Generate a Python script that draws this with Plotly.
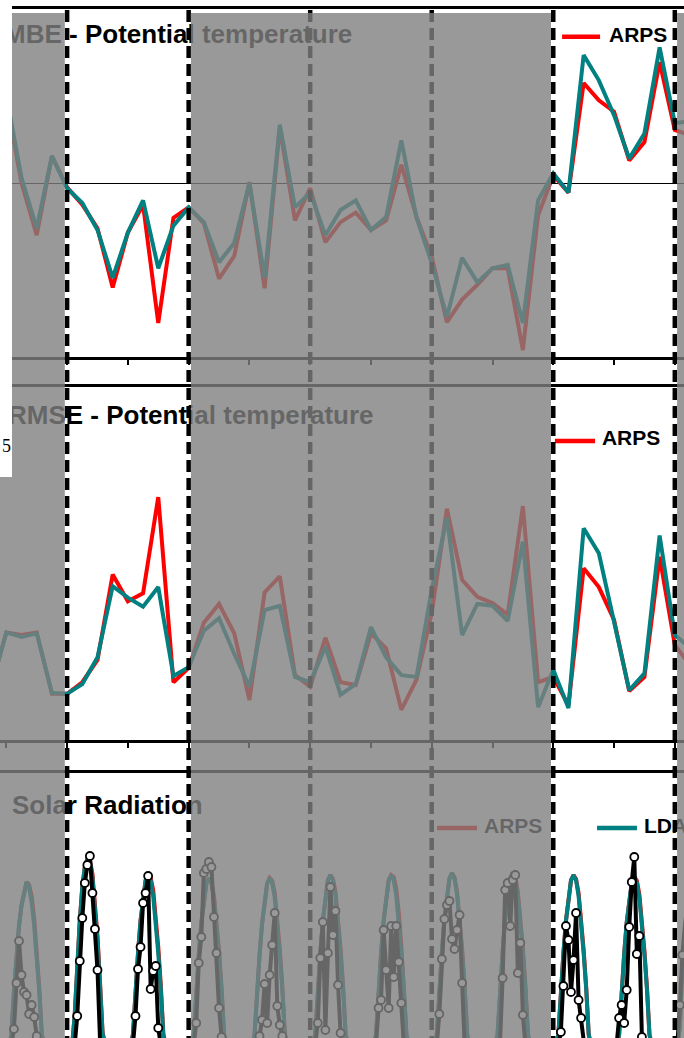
import plotly.graph_objects as go

# ---------------- DATA ----------------
# 6-hourly step index (panels 1 and 2)
step_idx = list(range(-5, 42))

mbe_ld = [None, 1.01, 0.06, -0.52, 0.31, -0.06, -0.23, -0.54, -1.09, -0.57, -0.20, -0.98, -0.49, -0.28,
          -0.45, -0.91, -0.69, 0.00, -1.09, 0.67, -0.28, -0.11, -0.60, -0.31, -0.20, -0.54, -0.39, 0.49,
          -0.40, -0.92, -1.54, -0.86, -1.14, -0.98, -0.94, -1.61, -0.20, 0.11, -0.11, 1.47, 1.18, 0.78,
          0.28, 0.57, 1.56, 0.69, 0.71]
mbe_arps = [None, 0.95, 0.00, -0.60, 0.31, -0.05, -0.25, -0.52, -1.20, -0.57, -0.25, -1.61, -0.40, -0.28,
            -0.46, -1.10, -0.84, 0.01, -1.21, 0.64, -0.43, -0.06, -0.68, -0.45, -0.34, -0.54, -0.43, 0.21,
            -0.39, -0.85, -1.60, -1.34, -1.17, -0.98, -0.98, -1.92, -0.37, 0.09, -0.11, 1.15, 0.95, 0.82,
            0.26, 0.47, 1.39, 0.61, 0.55]

rmse_ld = [0.61, 1.22, 1.17, 1.21, 0.54, 0.53, 0.64, 0.94, 1.74, 1.61, 1.51, 1.73, 0.73, 0.83, 1.24, 1.38,
           0.98, 0.61, 1.47, 1.52, 0.72, 0.66, 1.06, 0.52, 0.64, 1.28, 0.94, 0.74, 0.72, 1.70, 2.51, 1.19,
           1.54, 1.52, 1.35, 2.24, 0.38, 0.80, 0.37, 2.39, 2.11, 1.36, 0.57, 0.76, 2.31, 1.19, 1.05]
rmse_arps = [0.61, 1.22, 1.19, 1.22, 0.53, 0.53, 0.66, 0.91, 1.87, 1.57, 1.66, 2.74, 0.66, 0.82, 1.33, 1.54,
             1.21, 0.46, 1.67, 1.85, 0.74, 0.61, 1.16, 0.66, 0.63, 1.21, 1.04, 0.35, 0.69, 1.44, 2.61, 1.81,
             1.62, 1.55, 1.42, 2.64, 0.66, 0.72, 0.40, 1.94, 1.73, 1.36, 0.56, 0.72, 2.07, 1.08, 0.85]

# Solar radiation: hourly values (hours 5..19) for each day
solar_hours = list(range(5, 20))
ld_solar = [
    [0, 49, 269, 440, 595, 700, 765, 815, 789, 714, 595, 440, 269, 49, 0],
    [0, 0, 150, 400, 620, 790, 890, 930, 920, 840, 700, 520, 300, 60, 0],
    [0, 51, 281, 459, 621, 745, 823, 850, 823, 745, 621, 459, 281, 51, 0],
    [0, 50, 276, 451, 610, 731, 808, 835, 808, 731, 610, 451, 276, 50, 0],
    [0, 48, 272, 448, 608, 730, 806, 835, 810, 735, 612, 452, 276, 50, 0],
    [0, 52, 282, 460, 622, 746, 824, 850, 822, 744, 620, 458, 280, 50, 0],
    [0, 51, 280, 458, 620, 744, 822, 850, 824, 746, 622, 460, 282, 51, 0],
    [0, 52, 284, 464, 628, 753, 832, 860, 832, 753, 628, 464, 284, 52, 0],
    [0, 53, 286, 466, 630, 755, 834, 862, 830, 750, 625, 462, 282, 51, 0],
    [0, 50, 280, 458, 620, 745, 823, 850, 823, 745, 621, 459, 281, 51, 0],
    [0, 50, 277, 454, 613, 736, 813, 840, 813, 736, 613, 454, 277, 50, 0],
    [0, 90, 400, 560, 700, 800, 860, 875, 850, 770, 640, 470, 290, 50, 0],
]
arps_solar = [
    [0, 49, 269, 440, 595, 700, 765, 815, 800, 745, 630, 470, 285, 55, 0],
    [0, 0, 150, 400, 620, 790, 890, 930, 925, 855, 720, 545, 315, 65, 0],
    [0, 51, 281, 459, 621, 745, 823, 850, 835, 775, 655, 490, 300, 55, 0],
    [0, 50, 276, 451, 610, 731, 808, 835, 815, 745, 630, 470, 285, 50, 0],
    [0, 48, 272, 448, 608, 730, 806, 835, 820, 760, 640, 480, 290, 52, 0],
    [0, 52, 282, 460, 622, 746, 824, 850, 830, 765, 645, 480, 292, 52, 0],
    [0, 51, 280, 458, 620, 744, 825, 850, 840, 780, 660, 490, 300, 55, 0],
    [0, 52, 284, 464, 628, 753, 832, 860, 838, 765, 645, 480, 292, 54, 0],
    [0, 53, 286, 466, 630, 755, 834, 862, 840, 768, 648, 482, 294, 53, 0],
    [0, 50, 280, 458, 620, 745, 823, 850, 830, 760, 640, 475, 290, 52, 0],
    [0, 50, 277, 454, 613, 736, 813, 840, 822, 752, 635, 472, 288, 52, 0],
    [0, 90, 400, 560, 700, 800, 860, 875, 858, 785, 660, 490, 300, 52, 0],
]
obs_solar = [
    [0, 0, 80, 310, 520, 350, 265, 250, 155, 200, 140, 45, 0, 0, 0],
    [0, 0, 0, 145, 420, 635, 810, 900, 945, 760, 580, 375, 25, 0, 0],
    [0, 0, 145, 380, 490, 710, 760, 845, 280, 370, 395, 85, 0, 0, 0],
    [0, 0, 110, 410, 540, 860, 880, 915, 890, 640, 460, 185, 40, 0, 0],
    [0, 0, 0, 45, 125, 305, 110, 350, 500, 660, 195, 100, 45, 0, 0],
    [0, 0, 110, 435, 615, 75, 460, 790, 550, 670, 300, 60, 0, 0, 0],
    [0, 0, 185, 225, 575, 375, 185, 595, 340, 595, 415, 210, 0, 0, 0],
    [0, 0, 155, 430, 630, 700, 720, 530, 480, 575, 650, 310, 0, 0, 0],
    [0, 0, 20, 335, 775, 810, 595, 825, 850, 360, 510, 150, 0, 0, 0],
    [0, 0, 65, 295, 595, 525, 265, 425, 660, 225, 135, 25, 0, 0, 0],
    [0, 135, 200, 110, 275, 590, 815, 940, 455, 545, 40, 0, 0, 0, 0],
    [0, 200, 450, 600, 700, 750, 800, 820, 780, 700, 550, 350, 150, 0, 0],
]
day_boundaries = [0, 8, 16, 24, 32, 40]
highlight_windows = [(0, 8), (32, 40)]

# ---------------- STYLE / LAYOUT HELPERS ----------------
W, H = 684, 1038
X_RANGE = [-4.417, 40.605]
TEAL = "#008080"
RED = "#FF0000"
FONT = "Liberation Sans"


def py(px):
    return (H - px) / H


fig = go.Figure()


def hour_to_step(t):
    return (t - 28) / 6.0


sx, s_ld, s_arps, s_obs = [], [], [], []
for k in range(len(ld_solar)):
    for j, h in enumerate(solar_hours):
        sx.append(hour_to_step(24 * k + h))
        s_ld.append(ld_solar[k][j])
        s_arps.append(arps_solar[k][j])
        s_obs.append(obs_solar[k][j])

# Panel 1: MBE
fig.add_trace(go.Scatter(x=step_idx, y=mbe_arps, mode="lines", line=dict(color=RED, width=4),
                         xaxis="x", yaxis="y"))
fig.add_trace(go.Scatter(x=step_idx, y=mbe_ld, mode="lines", line=dict(color=TEAL, width=4),
                         xaxis="x", yaxis="y"))
# Panel 2: RMSE
fig.add_trace(go.Scatter(x=step_idx, y=rmse_arps, mode="lines", line=dict(color=RED, width=4),
                         xaxis="x2", yaxis="y2"))
fig.add_trace(go.Scatter(x=step_idx, y=rmse_ld, mode="lines", line=dict(color=TEAL, width=4),
                         xaxis="x2", yaxis="y2"))
# Panel 3: Solar
fig.add_trace(go.Scatter(x=sx, y=s_arps, mode="lines", line=dict(color=RED, width=4),
                         xaxis="x3", yaxis="y3"))
fig.add_trace(go.Scatter(x=sx, y=s_ld, mode="lines", line=dict(color=TEAL, width=4),
                         xaxis="x3", yaxis="y3"))
fig.add_trace(go.Scatter(x=sx, y=s_obs, mode="lines+markers", line=dict(color="black", width=4),
                         marker=dict(symbol="circle", size=8, color="white",
                                     line=dict(color="black", width=1.8)),
                         xaxis="x3", yaxis="y3"))


# Titles and legend pieces (drawn as traces so they sit under the shading)
def add_text(x, y, txt, size, xa, ya, color="black"):
    fig.add_trace(go.Scatter(x=[x], y=[y], mode="text", text=[txt], textposition="middle right",
                             textfont=dict(family=FONT, size=size, color=color, weight="bold"),
                             xaxis=xa, yaxis=ya, cliponaxis=False))


def add_key(x0, x1, y, color, xa, ya):
    fig.add_trace(go.Scatter(x=[x0, x1], y=[y, y], mode="lines", line=dict(color=color, width=4.5),
                             xaxis=xa, yaxis=ya))


add_text(-4.15, 1.68, "MBE - Potential temperature", 26, "x", "y")
add_key(32.58, 35.08, 1.68, RED, "x", "y")
add_text(35.67, 1.68, "ARPS", 21, "x", "y")

add_text(-3.89, 3.63, "RMSE - Potential temperature", 26, "x2", "y2")
add_key(32.11, 34.75, 3.37, RED, "x2", "y2")
add_text(35.2, 3.38, "ARPS", 21, "x2", "y2")

add_text(-3.63, 1187, "Solar Radiation", 26, "x3", "y3")
add_key(24.35, 26.98, 1085, RED, "x3", "y3")
add_text(27.44, 1088, "ARPS", 21, "x3", "y3")
add_key(34.88, 37.51, 1085, TEAL, "x3", "y3")
add_text(37.97, 1088, "LDAPS", 21, "x3", "y3")

# ---------------- SHAPES ----------------
shapes = []
for b in day_boundaries:
    shapes.append(dict(type="line", xref="x", yref="paper", x0=b, x1=b, y0=py(10), y1=0,
                       line=dict(color="black", width=4.5, dash="12px,6px"), layer="above"))
# grey shading outside the highlighted windows
edges = [-20]
for a, b in highlight_windows:
    edges += [a - 0.15, b + 0.15]
edges.append(60)
for j in range(0, len(edges), 2):
    shapes.append(dict(type="rect", xref="x", yref="paper", x0=edges[j], x1=edges[j + 1],
                       y0=0, y1=py(13), fillcolor="rgba(128,128,128,0.8)", line=dict(width=0),
                       layer="above"))
# white strip at far left
shapes.append(dict(type="rect", xref="paper", yref="paper", x0=0, x1=12 / W, y0=py(477), y1=1,
                   fillcolor="white", line=dict(width=0), layer="above"))

ax_common = dict(range=X_RANGE, showgrid=False, zeroline=False, showticklabels=False,
                 showline=True, linecolor="black", linewidth=2.5)

fig.update_layout(
    width=W, height=H, margin=dict(l=0, r=0, t=0, b=0),
    paper_bgcolor="white", plot_bgcolor="white", showlegend=False,
    shapes=shapes,
    annotations=[dict(x=0.0, y=py(446), xref="paper", yref="paper", text="5", showarrow=False,
                      xanchor="left", yanchor="middle",
                      font=dict(family="Liberation Serif", size=18, color="black"))],
    xaxis=dict(**ax_common, anchor="y", mirror=True, ticks="outside", ticklen=5, tickwidth=2,
               tickcolor="black", tick0=0, dtick=4),
    xaxis2=dict(**ax_common, anchor="y2", mirror=True, ticks="outside", ticklen=5, tickwidth=2,
                tickcolor="black", tick0=0, dtick=4),
    xaxis3=dict(**ax_common, anchor="y3", side="top", ticks=""),
    yaxis=dict(domain=[py(357), py(9)], range=[-2, 2], showgrid=False, showticklabels=False,
               zeroline=True, zerolinecolor="black", zerolinewidth=1.2),
    yaxis2=dict(domain=[py(740), py(387)], range=[0.011, 3.978], showgrid=False,
                showticklabels=False, zeroline=False),
    yaxis3=dict(domain=[0, py(773)], range=[35, 1360], showgrid=False, showticklabels=False,
                zeroline=False),
)

fig.write_html("out.html", config={"displayModeBar": False},
               post_script="document.body.style.margin='0';document.body.style.overflow='hidden';")
